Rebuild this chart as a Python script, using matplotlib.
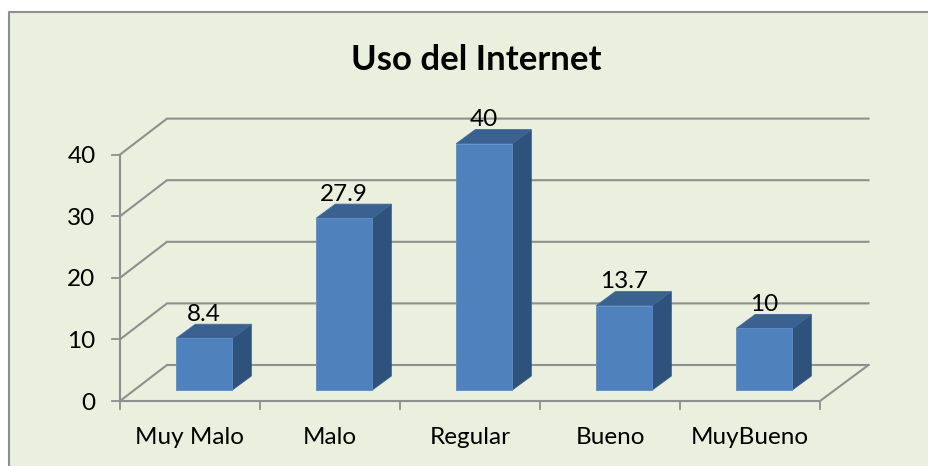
import matplotlib
matplotlib.use("Agg")
import matplotlib.pyplot as plt
from matplotlib.patches import Polygon, Rectangle

categories = ["Muy Malo", "Malo", "Regular", "Bueno", "MuyBueno"]
values = [8.4, 27.9, 40, 13.7, 10]
value_labels = ["8.4", "27.9", "40", "13.7", "10"]
y_ticks = [0, 10, 20, 30, 40]
title = "Uso del Internet"

W, H = 929, 466
X0, XU = 204.3, 140.0    # pixel of category 0, pixels per category
Y0, YU = 390.0, 6.16     # pixel of value 0, pixels per value unit
BAR_W = 56.0 / XU
DX, DY = 19.0 / XU, 14.0 / YU
FONT = "Lato"
GRID = "#8F8F8F"

def px(x): return (x - X0) / XU
def py(y): return (Y0 - y) / YU

fig = plt.figure(figsize=(W / 100, H / 100), dpi=100, facecolor="white")
ax = fig.add_axes([0, 0, 1, 1])
ax.set_xlim(px(0), px(W))
ax.set_ylim(py(H), py(0))
ax.axis("off")

# chart area with a border on the top and left only
ax.add_patch(Rectangle((px(9), py(H)), px(W) - px(9), py(12) - py(H),
                       facecolor="#EBEFDE", edgecolor="none", zorder=0))
ax.plot([px(9), px(9), px(W)], [py(H), py(12), py(12)], color=GRID, lw=1.5, zorder=1)

# 3D gridlines: value v runs from the front plane, to the wall, to the right
front_left, back_left, back_right = px(120), px(167), px(868.5)
front_shift = -11.0 / YU
back_shift = 25.0 / YU
for v in y_ticks:
    ax.plot([front_left, back_left, back_right],
            [v + front_shift, v + back_shift, v + back_shift],
            color=GRID, lw=1.5, zorder=2, solid_joinstyle="miter")
    ax.plot([px(112), front_left], [v + front_shift] * 2, color=GRID, lw=1.3, zorder=2)
    ax.text(px(95.5), v + front_shift, str(v), ha="right", va="center_baseline",
            family=FONT, fontsize=17.5, color="black", zorder=6)

# floor and axes
front_right = px(820)
ax.plot([front_left, front_left], [y_ticks[0] + front_shift, y_ticks[-1] + front_shift],
        color=GRID, lw=1.5, zorder=2)
ax.plot([front_left, front_right, back_right],
        [front_shift, front_shift, back_shift], color=GRID, lw=1.5, zorder=2)
for i in range(len(categories) + 1):
    x = front_left + i
    ax.plot([x, x], [front_shift, py(409)], color=GRID, lw=1.3, zorder=2)

# bars
xs = list(range(len(categories)))
for i, v in zip(xs, values):
    l, r = i - BAR_W / 2, i + BAR_W / 2
    ax.add_patch(Polygon([(r, 0), (r + DX, DY), (r + DX, v + DY), (r, v)],
                         facecolor="#2F527C", edgecolor="#345A86", lw=0.6, zorder=3))
    ax.add_patch(Polygon([(l, v), (l + DX, v + DY), (r + DX, v + DY), (r, v)],
                         facecolor="#3A6190", edgecolor="#41699A", lw=0.6, zorder=3))
ax.bar(xs, values, width=BAR_W, color="#4F81BD", edgecolor="#5E8DC4", lw=0.6, zorder=4)

# labels
for i, v, s in zip(xs, values, value_labels):
    ax.text(i, v + 26.0 / YU, s, ha="center", va="center_baseline",
            family=FONT, fontsize=17.5, color="black", zorder=6)
for i, c in enumerate(categories):
    ax.text(front_left + i + 0.5, py(436), c, ha="center", va="center_baseline",
            family=FONT, fontsize=17.5, color="black", zorder=6)
ax.text(px(476), py(57), title, ha="center", va="center_baseline",
        family=FONT, fontsize=25, fontweight="bold", color="black", zorder=6)

fig.savefig("out.png", dpi=100, facecolor="white")
